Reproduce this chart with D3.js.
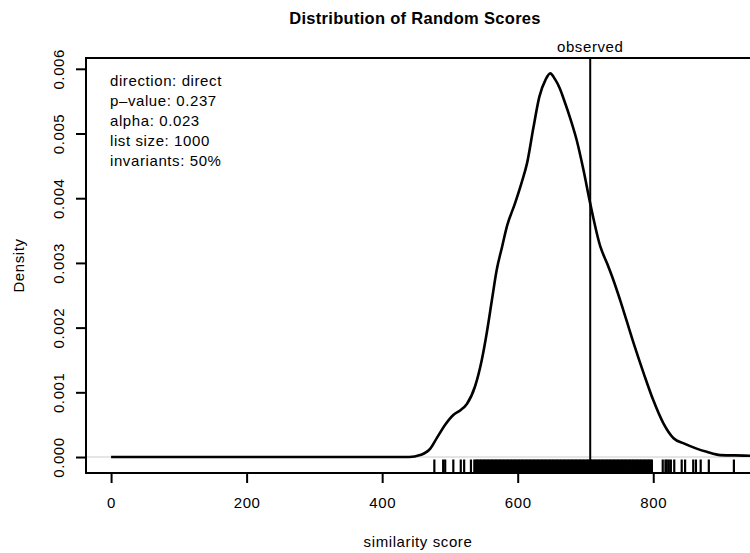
<!DOCTYPE html>
<html>
<head>
<meta charset="utf-8">
<script src="https://cdn.jsdelivr.net/npm/d3@7"></script>
<style>
  body { margin: 0; background: #fff; }
  svg { font-family: "Liberation Sans", Arial, Helvetica, sans-serif; }
  .lbl { font-size: 15px; letter-spacing: 0.6px; fill: #000; }
</style>
</head>
<body>
<svg id="chart" width="750" height="553"></svg>
<script>
// Density estimate (score, density)
var density_x = [0, 300, 440, 456, 471, 481, 493, 505, 515, 525, 537, 547, 555, 562, 569, 577, 584, 596,
    606, 614, 623, 632, 641, 648, 655, 662, 668, 678, 687, 697, 707, 722, 732, 741, 751, 771, 786, 800,
    815, 830, 845, 864, 879, 899, 943, 960];
var density_y = [0, 0, 0, 0.00003, 0.00013, 0.00030, 0.00050, 0.00065, 0.00072, 0.00082, 0.00109, 0.00150,
    0.00196, 0.00243, 0.00289, 0.00325, 0.00356, 0.00392, 0.00425, 0.00455, 0.00508, 0.00557,
    0.00583, 0.00593, 0.00584, 0.00570, 0.00553, 0.00522, 0.00490, 0.00444, 0.00392, 0.00325, 0.00299,
    0.00274, 0.00243, 0.00176, 0.00129, 0.00088, 0.00052, 0.00029, 0.00021, 0.00013, 0.00008, 0.00003,
    0.00002, 0.00001];

// Random scores shown as the rug
var rug_scores = [477, 490, 493, 505, 516, 521, 531,
    536, 538, 540, 542, 544, 546, 548, 550, 552, 554, 556, 558, 560, 562, 564, 566, 568, 570, 572, 574,
    576, 578, 580, 582, 584, 586, 588, 590, 592, 594, 596, 598, 600, 602, 604, 606, 608, 610, 612, 614,
    616, 618, 620, 622, 624, 626, 628, 630, 632, 634, 636, 638, 640, 642, 644, 646, 648, 650, 652, 654,
    656, 658, 660, 662, 664, 666, 668, 670, 672, 674, 676, 678, 680, 682, 684, 686, 688, 690, 692, 694,
    696, 698, 700, 702, 704, 706, 708, 710, 712, 714, 716, 718, 720, 722, 724, 726, 728, 730, 732, 734,
    736, 738, 740, 742, 744, 746, 748, 750, 752, 754, 756, 758, 760, 762, 764, 766, 768, 770, 772, 774,
    776, 778, 780, 782, 784, 786, 788, 790, 792, 794, 796, 798,
    814, 818, 820, 823, 826, 831, 842, 847, 859, 863, 870, 882, 919];

var observed = 707;
var x_ticks = [0, 200, 400, 600, 800];
var y_ticks = [0, 0.001, 0.002, 0.003, 0.004, 0.005, 0.006];
var info_lines = ["direction: direct", "p\u2013value: 0.237", "alpha: 0.023", "list size: 1000", "invariants: 50%"];

// Plot region
var p_left = 86, p_right = 761, p_top = 58, p_bot = 473;

var svg = d3.select("#chart");

var x_scale = d3.scaleLinear().domain([-37, 959]).range([p_left, p_right]);
var y_scale = d3.scaleLinear().domain([-0.000247, 0.006167]).range([p_bot, p_top]);

svg.append("clipPath").attr("id", "clip")
    .append("rect")
    .attr("x", p_left).attr("y", p_top)
    .attr("width", p_right - p_left).attr("height", p_bot - p_top);

// Zero line
svg.append("line")
    .attr("x1", p_left).attr("x2", p_right)
    .attr("y1", y_scale(0)).attr("y2", y_scale(0))
    .attr("stroke", "#dcdcdc").attr("stroke-width", 1.5);

// Density curve
var pts = density_x.map((d, i) => [d, density_y[i]]);
var line = d3.line()
    .x(d => x_scale(d[0]))
    .y(d => y_scale(d[1]))
    .curve(d3.curveMonotoneX);
svg.append("path")
    .attr("clip-path", "url(#clip)")
    .attr("d", line(pts))
    .attr("fill", "none")
    .attr("stroke", "#000")
    .attr("stroke-width", 2.6)
    .attr("stroke-linejoin", "round");

// Rug
svg.append("g").attr("clip-path", "url(#clip)")
    .selectAll("line")
    .data(rug_scores)
    .enter()
    .append("line")
    .attr("x1", d => x_scale(d)).attr("x2", d => x_scale(d))
    .attr("y1", p_bot - 13.5).attr("y2", p_bot)
    .attr("stroke", "#000").attr("stroke-width", 2.2);

// Observed line
svg.append("line")
    .attr("x1", x_scale(observed)).attr("x2", x_scale(observed))
    .attr("y1", p_top).attr("y2", p_bot)
    .attr("stroke", "#000").attr("stroke-width", 2);
svg.append("text")
    .attr("class", "lbl")
    .attr("text-anchor", "middle")
    .attr("x", x_scale(observed)).attr("y", 52)
    .text("observed");

// Box
svg.append("rect")
    .attr("x", p_left).attr("y", p_top)
    .attr("width", p_right - p_left).attr("height", p_bot - p_top)
    .attr("fill", "none").attr("stroke", "#000").attr("stroke-width", 2);

// Axes
var x_axis = svg.append("g")
    .attr("transform", "translate(0," + p_bot + ")")
    .call(d3.axisBottom(x_scale).tickValues(x_ticks).tickSize(10).tickPadding(14.5).tickSizeOuter(0));
x_axis.select(".domain").remove();
x_axis.selectAll("line").attr("stroke-width", 2);
x_axis.selectAll("text").attr("class", "lbl").attr("font-family", null).attr("font-size", null);

var y_axis = svg.append("g")
    .attr("transform", "translate(" + p_left + ",0)")
    .call(d3.axisLeft(y_scale).tickValues(y_ticks).tickSize(10).tickFormat(d3.format(".3f")).tickSizeOuter(0));
y_axis.select(".domain").remove();
y_axis.selectAll("line").attr("stroke-width", 2);
y_axis.selectAll("text")
    .attr("class", "lbl")
    .attr("font-family", null).attr("font-size", null)
    .attr("transform", "rotate(-90)")
    .attr("text-anchor", "middle")
    .attr("x", 0).attr("y", -22.5).attr("dy", 0);

// Titles
svg.append("text")
    .attr("x", 415).attr("y", 24)
    .attr("text-anchor", "middle")
    .attr("font-size", "16.5px").attr("font-weight", "bold")
    .attr("letter-spacing", "0.3px")
    .text("Distribution of Random Scores");
svg.append("text")
    .attr("class", "lbl")
    .attr("x", 418).attr("y", 547)
    .attr("text-anchor", "middle")
    .text("similarity score");
svg.append("text")
    .attr("class", "lbl")
    .attr("transform", "translate(23.5," + ((p_top + p_bot) / 2) + ") rotate(-90)")
    .attr("text-anchor", "middle")
    .text("Density");

// Info text
svg.append("g").selectAll("text")
    .data(info_lines)
    .enter()
    .append("text")
    .attr("class", "lbl")
    .attr("x", 110)
    .attr("y", (d, i) => 86 + i * 20)
    .text(d => d);
</script>
</body>
</html>
